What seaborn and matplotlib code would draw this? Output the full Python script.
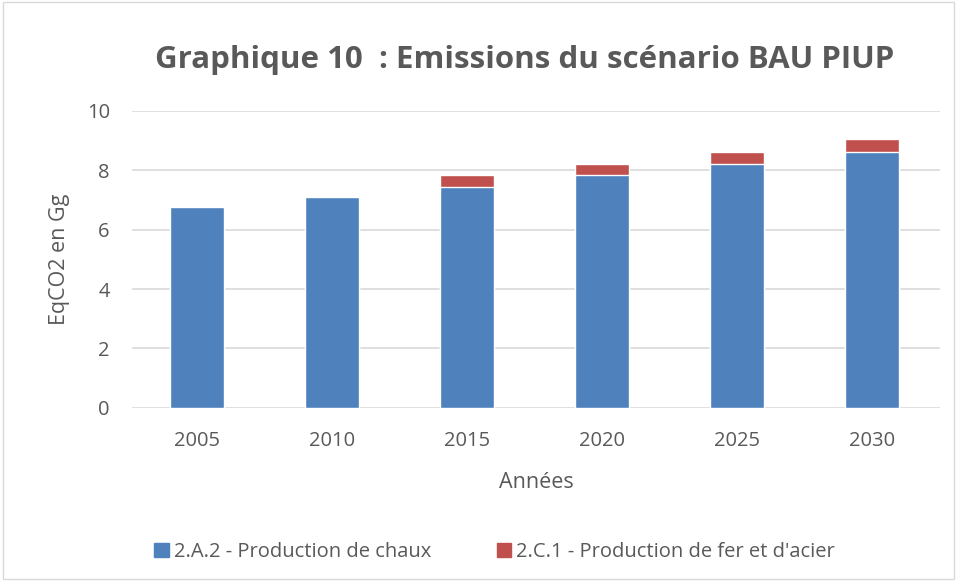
import matplotlib
matplotlib.use("Agg")
import matplotlib.pyplot as plt
import matplotlib.patches as mpatches
import pandas as pd
import seaborn as sns

# values (EqCO2 en Gg)
years = ["2005", "2010", "2015", "2020", "2025", "2030"]
chaux = [6.75, 7.09, 7.44, 7.83, 8.21, 8.62]
fer_acier = [0.0, 0.0, 0.41, 0.40, 0.41, 0.42]

labels = ["2.A.2 - Production de chaux", "2.C.1 - Production de fer et d'acier"]
colors = ["#4F81BD", "#C0504D"]
grey = "#595959"

sns.set_theme(style="white")
plt.rcParams["font.family"] = ["Open Sans", "DejaVu Sans"]

df = pd.DataFrame({"annee": years, "chaux": chaux, "fer": fer_acier})
df["total"] = df["chaux"] + df["fer"]

fig = plt.figure(figsize=(9.57, 5.81), dpi=100)
ax = fig.add_axes([0.138, 0.298, 0.844, 0.511])

# stacked: draw totals in red, then the lime part on top in blue
sns.barplot(data=df, x="annee", y="total", color=colors[1], width=0.4,
            saturation=1, ax=ax, zorder=2)
sns.barplot(data=df, x="annee", y="chaux", color=colors[0], width=0.4,
            saturation=1, ax=ax, zorder=3)

ax.set_ylim(0, 10)
ax.set_xlim(-0.48, 5.5)
ax.set_yticks(range(0, 11, 2))
ax.yaxis.grid(True, color="#D9D9D9", linewidth=1.2, zorder=0)
ax.set_axisbelow(True)
for s in ax.spines.values():
    s.set_visible(False)
ax.tick_params(axis="both", length=0, labelsize=14.5, colors=grey)
ax.tick_params(axis="y", pad=16)
ax.tick_params(axis="x", pad=17)
ax.set_xlabel("Années", fontsize=15.5, color=grey, labelpad=15)
ax.set_ylabel("EqCO2 en Gg", fontsize=15.5, color=grey, labelpad=12)

fig.text(0.548, 0.897, "Graphique 10  : Emissions du scénario BAU PIUP",
         ha="center", va="center", fontsize=22.5, fontweight="bold", color=grey)

handles = [mpatches.Patch(color=c, label=l) for c, l in zip(colors, labels)]
fig.legend(handles=handles, loc="center", bbox_to_anchor=(0.517, 0.05),
           ncol=2, frameon=False, fontsize=14.5, labelcolor=grey,
           handlelength=0.7, handleheight=0.7, handletextpad=0.25,
           columnspacing=3.3)

# light frame around the whole chart area
fig.patches.append(mpatches.Rectangle((0.003, 0.003), 0.994, 0.994,
                                      transform=fig.transFigure, fill=False,
                                      edgecolor="#D9D9D9", linewidth=1))

fig.savefig("out.png", dpi=100)
